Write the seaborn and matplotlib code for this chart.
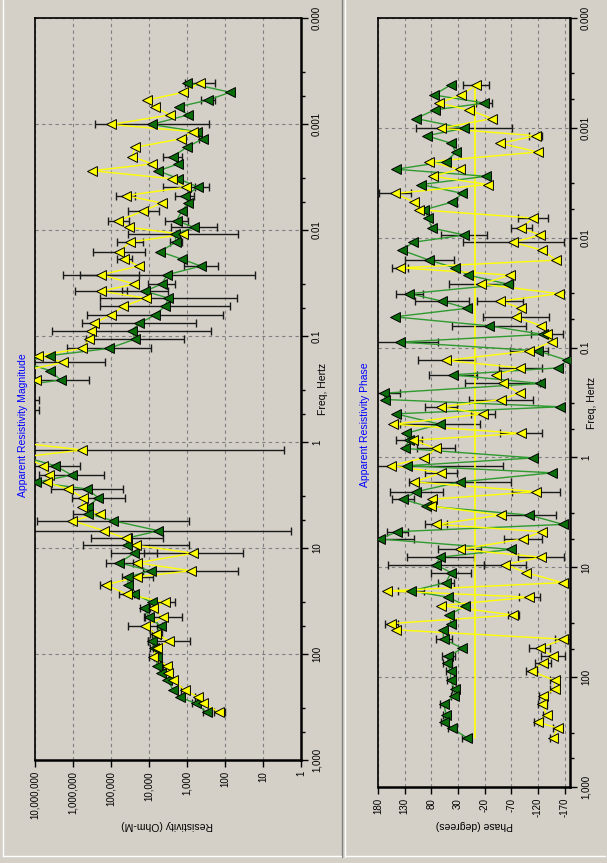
import numpy as np
import pandas as pd
import matplotlib
matplotlib.use("Agg")
import matplotlib.pyplot as plt
from matplotlib.lines import Line2D
from matplotlib.ticker import FixedLocator, FixedFormatter, NullFormatter
import seaborn as sns

sns.set_theme(style="white")
plt.rcParams['font.family'] = ['Liberation Sans', 'DejaVu Sans']

# ---- shared frequency grid (Hz) ----
freq_hz = [4.07e-4, 5.02e-4, 5.94e-4, 6.87e-4, 8.22e-4, 1.01e-3, 1.18e-3, 1.38e-3, 1.66e-3, 2.03e-3,
           2.38e-3, 2.76e-3, 3.28e-3, 3.95e-3, 4.74e-3, 5.56e-3, 6.62e-3, 8.17e-3, 9.44e-3, 0.0110,
           0.0130, 0.0160, 0.0188, 0.0219, 0.0264, 0.0323, 0.0378, 0.0439, 0.0525, 0.0634,
           0.0759, 0.0891, 0.107, 0.131, 0.153, 0.177, 0.212, 0.260, 0.297, 0.346,
           0.401, 0.498, 0.605, 0.697, 0.828, 1.01, 1.19, 1.38, 1.67, 2.05,
           2.40, 2.77, 3.35, 4.07, 4.74, 5.52, 6.87, 8.09, 9.44, 11.2,
           13.8, 16.4, 18.7, 22.3, 27.2, 32.5, 37.1, 45.1, 54.5, 64.7,
           75.0, 88.3, 107, 129, 150, 176, 219, 256, 292, 355]

# ---- apparent resistivity (Ohm-m) ----
rho_yellow = [455, 1250, 11100, 6950, 2800, 100000, 710, 1470, 23300, 27500,
              8170, 310000, 2540, 1080, 40300, 4650, 14100, 64100, 33000, 1250,
              31600, 60400, 44600, 18300, 183000, 24300, 183000, 12200, 47300, 100000,
              280000, 336000, 372000, 568000, 8170000, 1790000, 2.0e7, 9420000, 3.0e7, 3.0e7,
              2.5e7, 2.5e7, 3.0e7, 3.0e7, 3.0e7, 3.0e7, 568000, 2.0e7, 6040000, 4290000,
              4930000, 1380000, 535000, 592000, 195000, 1040000, 153000, 40300, 22000, 681,
              20300, 785, 20300, 138000, 38700, 3790, 7690, 4370, 12700, 6550,
              2920, 6280, 8020, 3300, 3100, 2380, 1130, 504, 372, 141]
rho_green = [1020, 73.8, 275, 1630, 959, 8510, 557, 387, 1020, 2380,
             1690, 5680, 1690, 504, 1130, 923, 1380, 1870, 655, 2070,
             1950, 5140, 1380, 429, 3300, 4650, 12700, 3100, 3790, 6950,
             17900, 28600, 23300, 113000, 4030000, 2.0e7, 4030000, 2110000, 3.0e7, 3.0e7,
             2.5e7, 2.5e7, 3.0e7, 3.0e7, 3.0e7, 3.0e7, 2.0e7, 2.0e7, 2980000, 1080000,
             9550000, 437000, 215000, 394000, 394000, 90400, 5680, 38700, 38700, 24800,
             60400, 9040, 35000, 36400, 24300, 8510, 13300, 10000, 4930, 6550,
             8510, 7380, 6040, 6280, 4830, 3300, 2290, 1530, 592, 303]
# error half-widths in decades
rho_err_yellow = [0.4, 0, 0, 0, 0, 0, 0, 0, 0, 0,
                  0, 0, 0, 0.6, 0.25, 0, 0.4, 0.28, 0, 1.45,
                  0.35, 0.68, 0.2, 0, 1.0, 0, 0.68, 0, 0, 0,
                  0, 0, 0, 0, 0, 1.1, 0, 0, 0, 0,
                  0.5, 0.5, 0, 0, 0, 0, 5.3, 0, 0, 0,
                  0, 0, 0, 0, 0, 0, 0, 0, 1.4, 1.3,
                  0, 1.25, 0.4, 0.15, 0.2, 0.25, 0.1, 0.5, 0.45, 0.15,
                  0.55, 0.1, 0.1, 0.1, 0.1, 0.1, 0.1, 0.1, 0.1, 0.15]
rho_err_green = [0, 0, 0.18, 0, 0, 1.5, 0, 0.1, 0, 0.25,
                 0, 0, 0.1, 0.1, 0.25, 0, 0, 0.3, 0.6, 0,
                 0.15, 0, 0, 0.45, 2.3, 0.35, 0.6, 1.8, 1.7, 1.8,
                 1.5, 2.1, 1.3, 1.1, 0, 0, 0, 0.75, 0, 0,
                 0, 0, 0, 0, 0, 0, 0, 0, 0.65, 0.85,
                 0, 0.95, 0.7, 0, 0.4, 2.0, 3.5, 0.95, 0, 0.6,
                 0.35, 0, 0, 0, 0, 0, 0.1, 0.1, 0.1, 0.1,
                 0.1, 0.1, 0.1, 0, 0, 0, 0, 0, 0.1, 0.1]

# ---- apparent resistivity phase (degrees) ----
phase_yellow = [-4, 24, 66, 10, -34, 62, -116, -49, -120, 84,
                27, 77, -26, 149, 112, 104, -111, -89, -124, -74,
                -128, -154, 138, -67, -14, -159, -49, -89, -78, -126,
                -137, -146, -103, 52, -87, -41, -54, -86, -51, 62,
                -17, 151, -88, 114, 71, 94, 155, 61, 112, -117,
                78, 81, -50, 71, -128, -92, 27, -126, -58, -98,
                -166, 163, -104, 62, -74, 155, 147, -167, -123, -148,
                -129, -108, -151, -151, -129, -128, -136, -120, -157, -148]
phase_green = [44, 75, -19, 74, 109, 19, 89, 43, 34, 52,
               146, -22, 99, 22, 41, 93, 86, 79, 18, 114,
               135, 84, 36, 11, -63, 121, 60, 13, 149, -28,
               -129, 138, -120, -175, -158, 39, -123, 169, 166, -162,
               147, 64, 128, 122, 130, -111, 125, -147, 26, 108,
               133, 90, -104, -167, 144, 177, -70, 63, 72, 43,
               53, 118, 49, 16, 46, 43, 58, 57, 22, 48,
               50, 44, 44, 36, 38, 57, 52, 56, 41, 14]
phase_err_yellow = [25, 0, 0, 0, 0, 0, 12, 0, 0, 0,
                    0, 0, 0, 30, 0, 0, 28, 20, 0, 95,
                    0, 0, 15, 0, 60, 0, 43, 0, 62, 0,
                    30, 0, 35, 53, 40, 0, 70, 0, 60, 30,
                    22, 0, 40, 0, 35, 0, 0, 30, 0, 45,
                    0, 0, 0, 20, 0, 35, 40, 43, 40, 0,
                    0, 0, 20, 0, 10, 12, 0, 15, 20, 22,
                    15, 10, 8, 8, 8, 8, 6, 8, 8, 6]
phase_err_green = [0, 0, 15, 0, 0, 90, 0, 0, 0, 0,
                   0, 0, 0, 0, 0, 0, 0, 0, 43, 0,
                   0, 46, 0, 0, 0, 25, 50, 0, 0, 70,
                   0, 70, 0, 0, 0, 45, 0, 30, 0, 0,
                   0, 75, 0, 25, 0, 0, 180, 0, 95, 50,
                   20, 0, 50, 0, 20, 65, 0, 63, 90, 38,
                   15, 25, 0, 0, 0, 0, 0, 15, 0, 12,
                   8, 8, 6, 6, 6, 6, 6, 6, 8, 8]
phase_reference = -1

freq_ticks = [1e-4, 1e-3, 1e-2, 1e-1, 1, 10, 100, 1000]
freq_tick_labels = ["0.000", "0.001", "0.01", "0.1", "1", "10", "100", "1,000"]
rho_ticks = [1e7, 1e6, 1e5, 1e4, 1e3, 1e2, 10, 1]
rho_tick_labels = ["10,000,000", "1,000,000", "100,000", "10,000", "1,000", "100", "10", "1"]
phase_ticks = [180, 130, 80, 30, -20, -70, -120, -170]
phase_tick_labels = ["180", "130", "80", "30", "-20", "-70", "-120", "-170"]

BG = "#d4d0c8"
YELLOW = "#ffff00"
GREEN_FACE = "#0a6e0a"
GREEN_LINE = "#2f9a2f"
ERR = "#1a1a1a"

W, H = 607, 863
fig = plt.figure(figsize=(W / 100, H / 100), dpi=100, facecolor=BG)


def px_axes(x0, y0, x1, y1):
    return fig.add_axes([x0 / W, 1 - y1 / H, (x1 - x0) / W, (y1 - y0) / H])


ax_res = px_axes(35, 18, 301, 760)
ax_ph = px_axes(378, 18, 570, 787)

for ax in (ax_res, ax_ph):
    ax.set_yscale("log")
    ax.set_ylim(1000, 1e-4)
ax_res.set_xscale("log")
ax_res.set_xlim(1e7, 1)
ax_ph.set_xlim(180, -180)


def draw_series(ax, vals, errs, face, line_color, log_err):
    v = np.asarray(vals, dtype=float)
    e = np.asarray(errs, dtype=float)
    f = np.asarray(freq_hz, dtype=float)
    m = e > 0
    if log_err:
        lo = v[m] - v[m] * 10 ** (-e[m])
        hi = v[m] * 10 ** e[m] - v[m]
    else:
        lo = hi = e[m]
    ax.errorbar(v[m], f[m], xerr=[lo, hi], fmt="none", ecolor=ERR,
                elinewidth=1.0, capsize=3, capthick=1.0, zorder=2)
    df = pd.DataFrame({"value": v, "freq": f})
    sns.lineplot(data=df, x="value", y="freq", sort=False, estimator=None,
                 color=line_color, lw=1.0, ax=ax, zorder=3)
    sns.scatterplot(data=df, x="value", y="freq", marker="<", s=50,
                    color=face, edgecolor="black", linewidth=0.7, ax=ax, zorder=4)


draw_series(ax_res, rho_green, rho_err_green, GREEN_FACE, GREEN_LINE, True)
draw_series(ax_res, rho_yellow, rho_err_yellow, YELLOW, YELLOW, True)

ax_ph.plot([phase_reference, phase_reference], [freq_hz[0], freq_hz[-1]],
           color=YELLOW, lw=1.2, zorder=3)
draw_series(ax_ph, phase_green, phase_err_green, GREEN_FACE, GREEN_LINE, False)
draw_series(ax_ph, phase_yellow, phase_err_yellow, YELLOW, YELLOW, False)

minor_freq = []
for d in [1e-4, 1e-3, 1e-2, 1e-1, 1, 10, 100]:
    minor_freq += [d * 3.2, d * 5.5]

for ax in (ax_res, ax_ph):
    ax.set_facecolor(BG)
    ax.set_xlabel("")
    ax.set_ylabel("")
    for s in ax.spines.values():
        s.set_visible(True)
        s.set_color("black")
        s.set_linewidth(1.2)
    ax.spines["right"].set_linewidth(1.8)
    ax.spines["bottom"].set_linewidth(1.8)
    ax.yaxis.set_major_locator(FixedLocator(freq_ticks))
    ax.yaxis.set_major_formatter(FixedFormatter(freq_tick_labels))
    ax.yaxis.set_minor_locator(FixedLocator(minor_freq))
    ax.yaxis.set_minor_formatter(NullFormatter())
    ax.tick_params(axis="y", which="both", left=False, right=True, labelleft=False,
                   labelright=True, direction="out", color="black")
    ax.tick_params(axis="y", which="major", length=5, width=1, labelsize=7,
                   labelrotation=90, pad=3, labelcolor="black")
    ax.tick_params(axis="y", which="minor", length=3, width=1)
    ax.tick_params(axis="x", which="major", bottom=True, top=False, length=5, width=1,
                   labelsize=7, labelrotation=90, pad=3, direction="out", color="black",
                   labelcolor="black")
    ax.tick_params(axis="x", which="minor", bottom=False, top=False)
    ax.grid(True, which="major", color="#808080", linestyle=(0, (3, 3)), linewidth=0.8)
    ax.set_axisbelow(True)
    for lab in ax.get_yticklabels():
        lab.set_verticalalignment("center")

ax_res.xaxis.set_major_locator(FixedLocator(rho_ticks))
ax_res.xaxis.set_major_formatter(FixedFormatter(rho_tick_labels))
ax_res.xaxis.set_minor_locator(FixedLocator([]))
ax_ph.xaxis.set_major_locator(FixedLocator(phase_ticks))
ax_ph.xaxis.set_major_formatter(FixedFormatter(phase_tick_labels))


def ftext(x, y, s, rot, **kw):
    fig.text(x / W, 1 - y / H, s, rotation=rot, ha="center", va="center", **kw)


ftext(23, 425, "Apparent Resistivity Magnitude", 90, color="#0000ff", fontsize=7.5)
ftext(365, 425, "Apparent Resistivity Phase", 90, color="#0000ff", fontsize=7.5)
ftext(323, 389, "Freq, Hertz", 90, color="black", fontsize=7.5)
ftext(592, 403, "Freq, Hertz", 90, color="black", fontsize=7.5)
ftext(167, 825, "Resistivity (Ohm-M)", 180, color="black", fontsize=7.5)
ftext(474, 825, "Phase (degrees)", 180, color="black", fontsize=7.5)


# window frame lines between and below the two panels
def fline(x0, y0, x1, y1, c, lw=1.0):
    fig.add_artist(Line2D([x0 / W, x1 / W], [1 - y0 / H, 1 - y1 / H], color=c, lw=lw))


fline(341.5, 0, 341.5, 857, "#808080")
fline(344.5, 0, 344.5, 857, "#ffffff")
fline(3, 0, 3, 856, "#ffffff")
fline(3, 856, 341, 856, "#ffffff")
fline(346, 856, 605, 856, "#ffffff")

fig.savefig("out.png", dpi=100, facecolor=BG)
